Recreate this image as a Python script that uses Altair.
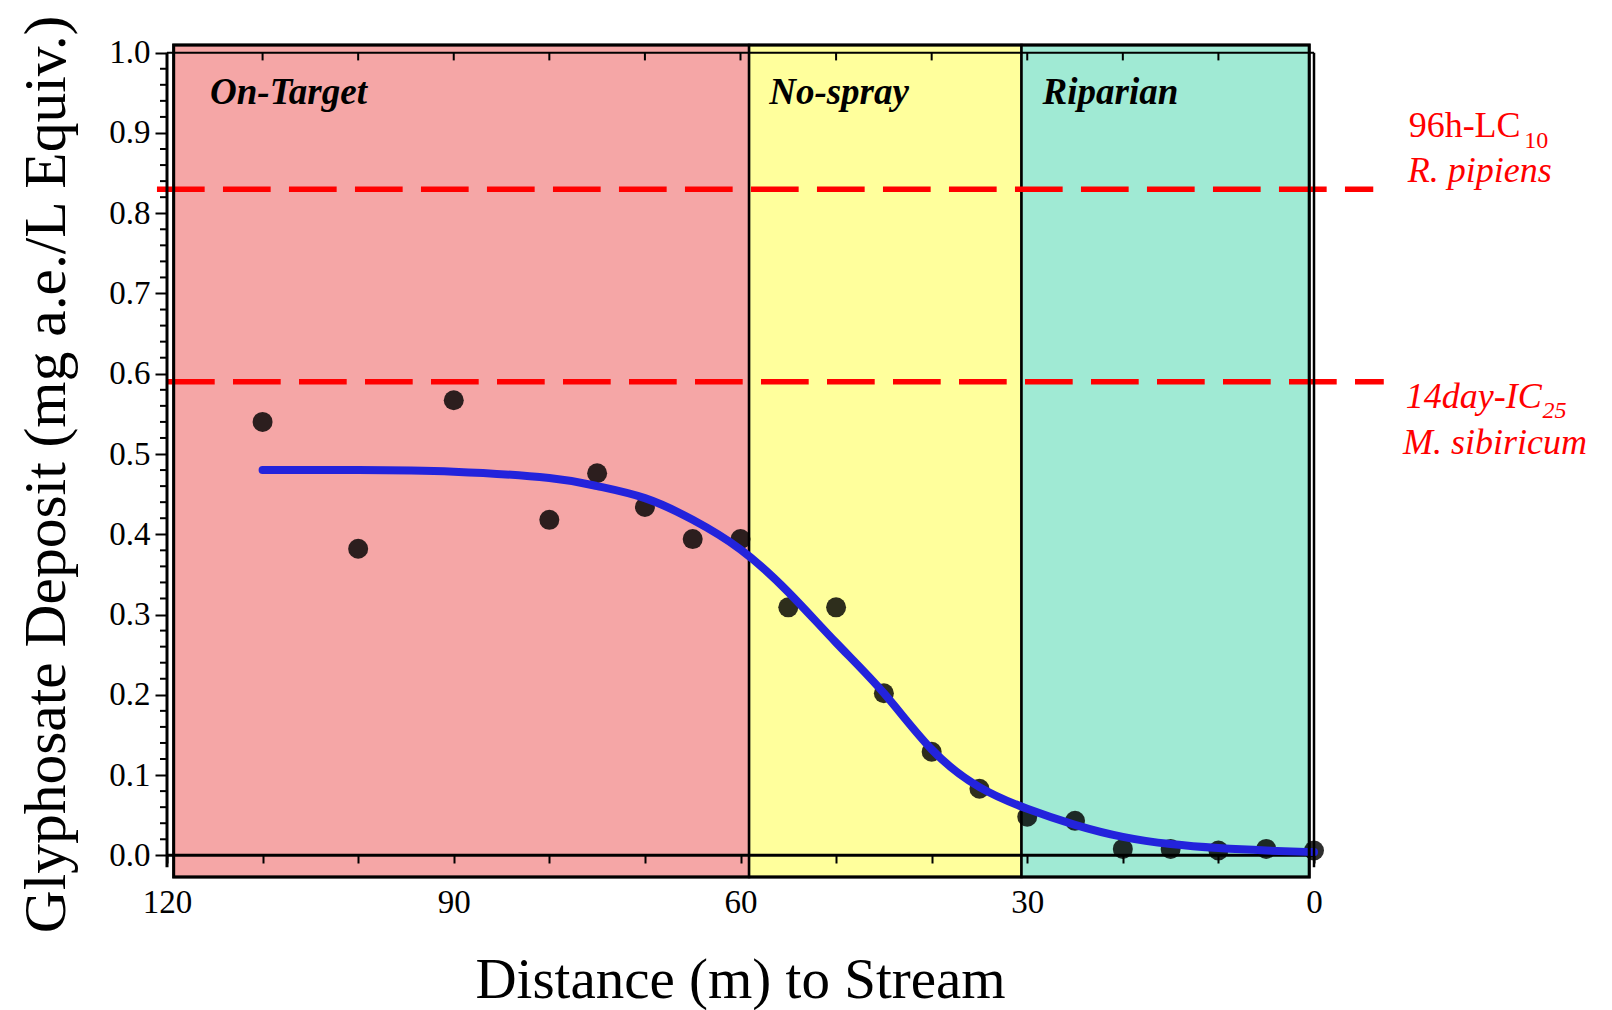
import altair as alt
import pandas as pd

FONT = "Liberation Serif"

# ---- data ----
dist = [110, 100, 90, 80, 75, 70, 65, 60, 55, 50, 45, 40, 35, 30, 25, 20, 15, 10, 5, 0]
deposit = [0.540, 0.382, 0.567, 0.418, 0.476, 0.434, 0.394, 0.394, 0.309, 0.309,
           0.202, 0.129, 0.083, 0.048, 0.043, 0.008, 0.008, 0.006, 0.008, 0.006]

fit_dist = [110, 100, 90, 80, 75, 70, 65, 60, 55, 50, 45, 40, 35, 30, 25, 20, 15, 10, 5, 0]
fit_val = [0.480, 0.480, 0.478, 0.470, 0.460, 0.445, 0.418, 0.381, 0.328, 0.265,
           0.202, 0.132, 0.085, 0.058, 0.038, 0.023, 0.014, 0.009, 0.006, 0.004]

zone_names = ["On-Target", "No-spray", "Riparian"]
zone_start = [119.3, 59.1, 30.6]
zone_end = [59.1, 30.6, 0.5]
zone_colors = ["#F5A6A6", "#FFFF9C", "#A0EAD4"]
zone_label_x = [115.5, 57.0, 28.4]
zone_label_y = [0.936, 0.936, 0.936]

thr_value = [0.83, 0.59]
thr_x_start = [121.05, 120.0]
thr_x_end = [-6.2, -7.3]

ann_text = ["96h-LC", "10", "R. pipiens", "14day-IC", "25", "M. sibiricum"]
ann_x = [-9.9, -22.0, -9.8, -9.6, -23.9, -9.3]
ann_y = [0.895, 0.881, 0.8385, 0.5577, 0.5452, 0.5004]
ann_size = [36, 24, 36, 36, 24, 36]
ann_style = ["normal", "normal", "italic", "italic", "italic", "italic"]

x_ticks = list(range(0, 121, 10))
y_major = [round(i * 0.1, 1) for i in range(11)]
y_minor = [round(i * 0.02, 2) for i in range(51) if i % 5 != 0]

# ---- tables ----
pts = pd.DataFrame({"d": dist, "v": deposit})
fit = pd.DataFrame({"d": fit_dist, "v": fit_val})
zones = pd.DataFrame({"name": zone_names, "x1": zone_start, "x2": zone_end,
                      "col": zone_colors, "lx": zone_label_x, "ly": zone_label_y})
thr = pd.DataFrame({"y": thr_value, "x1": thr_x_start, "x2": thr_x_end})
ann = pd.DataFrame({"t": ann_text, "x": ann_x, "y": ann_y, "s": ann_size, "st": ann_style})
top_ticks = pd.DataFrame({"t": [t for t in x_ticks if 0 < t < 120], "y1": 1.0, "y2": 0.9904})
minor = pd.DataFrame({"v": y_minor})
hlines = pd.DataFrame({"y": [0.0, 1.0], "x1": [120, 120], "x2": [0, 0], "w": [3, 2]})
vlines = pd.DataFrame({"x": [120, 0], "y1": [-0.015, -0.015], "y2": [1.0, 1.0], "w": [3, 2.5]})
frame = pd.DataFrame({"x1": [119.3], "x2": [0.5]})

W, H = 1147, 832
xs = alt.Scale(domain=[120, 0], nice=False, zero=False)
ys = alt.Scale(domain=[-0.027, 1.0096], nice=False, zero=False)


def X(f):
    return alt.X(f, type="quantitative", scale=xs)


def Y(f):
    return alt.Y(f, type="quantitative", scale=ys)


x_axis = alt.Axis(
    orient="bottom", offset=-21.7, values=x_ticks, tickSize=7.7, tickWidth=2,
    tickColor="black", domain=False, grid=False,
    labelExpr="datum.value % 30 == 0 ? datum.label : ''",
    labelFont=FONT, labelFontSize=33, labelColor="black", labelPadding=23,
    labelFlush=False, labelOverlap=False,
    title="Distance (m) to Stream", titleFont=FONT, titleFontSize=57,
    titleFontWeight="normal", titleColor="black", titleX=573, titleY=142,
    titleAlign="center", titleBaseline="alphabetic", zindex=1)

y_axis = alt.Axis(
    orient="left", values=y_major, format=".1f", tickSize=12, tickWidth=2,
    tickColor="black", domain=False, grid=False,
    labelFont=FONT, labelFontSize=33, labelColor="black", labelPadding=5,
    labelFlush=False, labelOverlap=False,
    title="Glyphosate Deposit (mg a.e./L Equiv.)", titleFont=FONT, titleFontSize=59.5,
    titleFontWeight="normal", titleColor="black", titleX=-103, titleY=429,
    titleAngle=270, titleAlign="center", titleBaseline="alphabetic", zindex=1)

points = alt.Chart(pts).mark_circle(size=400, color="black", opacity=0.82).encode(
    x=alt.X("d:Q", scale=xs, axis=x_axis),
    y=alt.Y("v:Q", scale=ys, axis=y_axis))

bg = alt.Chart(zones).mark_rect(stroke="black", strokeWidth=2.5).encode(
    x=X("x1"), x2="x2",
    color=alt.Color("col:N", scale=None))

zone_lbl = alt.Chart(zones).mark_text(
    align="left", baseline="alphabetic", font=FONT, fontSize=37,
    fontStyle="italic", fontWeight="bold", color="black").encode(
    x=X("lx"), y=Y("ly"), text="name:N")

dashes = alt.Chart(thr).mark_rule(
    color="#FF0000", strokeWidth=5.5, strokeDash=[47.7, 18.3]).encode(
    x=X("x1"), x2="x2", y=Y("y"))


def ann_part(style, size):
    return alt.Chart(ann).transform_filter(
        (alt.datum.st == style) & (alt.datum.s == size)
    ).mark_text(
        align="left", baseline="alphabetic", font=FONT, color="#FF0000",
        fontStyle=style, fontSize=size).encode(
        x=X("x"), y=Y("y"), text="t:N")


ann_layers = [ann_part(st, s) for st in ["normal", "italic"] for s in [36, 24]]

hl = alt.Chart(hlines).mark_rule(color="black").encode(
    x=X("x1"), x2="x2", y=Y("y"), strokeWidth=alt.StrokeWidth("w:Q", scale=None, legend=None))

vl = alt.Chart(vlines).mark_rule(color="black").encode(
    x=X("x"), y=Y("y1"), y2="y2", strokeWidth=alt.StrokeWidth("w:Q", scale=None, legend=None))

tt = alt.Chart(top_ticks).mark_rule(color="black", strokeWidth=2).encode(
    x=X("t"), y=Y("y1"), y2="y2")

mn = alt.Chart(minor).mark_rule(color="black", strokeWidth=2).encode(
    x=alt.value(-7), x2=alt.value(0), y=Y("v"))

curve = alt.Chart(fit).mark_line(
    color="#2323DC", strokeWidth=8, strokeCap="round", interpolate="natural").encode(
    x=X("d"), y=Y("v"))

box = alt.Chart(frame).mark_rect(filled=False, stroke="black", strokeWidth=3).encode(
    x=X("x1"), x2="x2")

chart = alt.layer(
    bg, dashes, hl, tt, zone_lbl, *ann_layers, points, curve, box, vl, mn
).properties(
    width=W, height=H,
    autosize=alt.AutoSizeParams(type="none"),
    padding={"left": 167, "top": 45, "right": 298, "bottom": 133},
    background="white",
).configure_view(stroke=None)

chart.save("out.html", embed_options={"renderer": "svg", "actions": False})
